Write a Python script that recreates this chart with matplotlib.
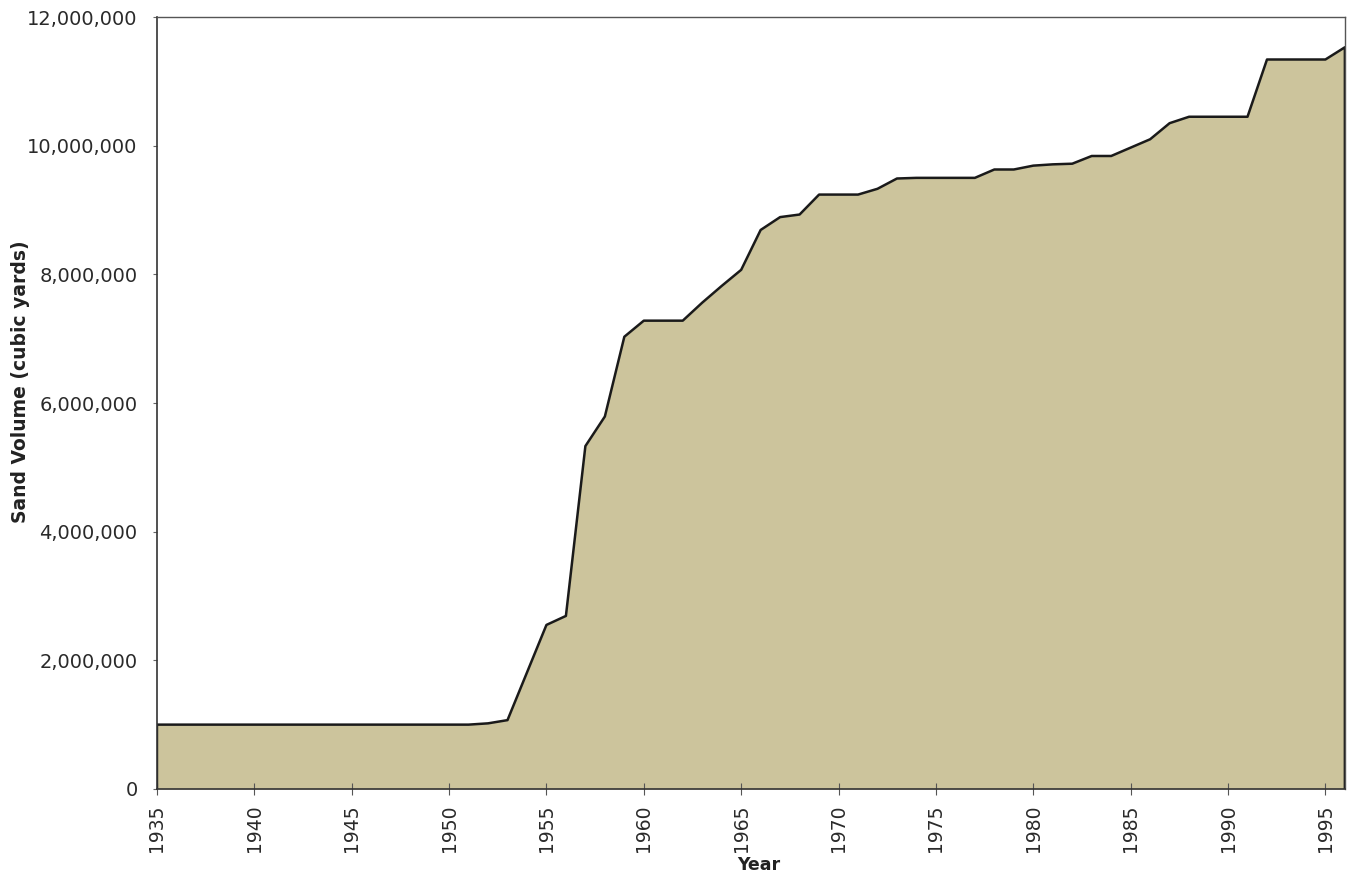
import matplotlib
matplotlib.use("Agg")
import matplotlib.pyplot as plt
from matplotlib.ticker import FuncFormatter

# cumulative sand volume placed on the beach (cubic yards)
years = list(range(1935, 1997))
volume = [
    1000000, 1000000, 1000000, 1000000, 1000000,   # 1935-1939
    1000000, 1000000, 1000000, 1000000, 1000000,   # 1940-1944
    1000000, 1000000, 1000000, 1000000, 1000000,   # 1945-1949
    1000000, 1000000, 1020000, 1070000, 1810000,   # 1950-1954
    2550000, 2690000, 5330000, 5790000, 7030000,   # 1955-1959
    7280000, 7280000, 7280000, 7560000, 7820000,   # 1960-1964
    8070000, 8690000, 8890000, 8930000, 9240000,   # 1965-1969
    9240000, 9240000, 9330000, 9490000, 9500000,   # 1970-1974
    9500000, 9500000, 9500000, 9630000, 9630000,   # 1975-1979
    9690000, 9710000, 9720000, 9840000, 9840000,   # 1980-1984
    9970000, 10100000, 10350000, 10450000, 10450000,  # 1985-1989
    10450000, 10450000, 11340000, 11340000, 11340000,  # 1990-1994
    11340000, 11530000,                            # 1995-1996
]
tick_years = list(range(1935, 1996, 5))
y_ticks = [0, 2000000, 4000000, 6000000, 8000000, 10000000, 12000000]

plt.rcParams['font.family'] = ['DejaVu Sans']
fig = plt.figure(figsize=(13.53, 8.74), dpi=100)
ax = fig.add_axes([0.116, 0.0973, 0.878, 0.8832])

fill_color = '#ccc49c'
ax.fill_between(years, 0, volume, color=fill_color, linewidth=0)
# outline of the area, including the closing edges at both ends
ax.plot([years[0]] + years + [years[-1]], [0] + volume + [0], color='#1a1a1a', linewidth=1.8)

ax.set_xlim(1935, 1996)
ax.set_ylim(0, 12000000)
ax.set_xticks(tick_years)
ax.set_xticklabels([str(y) for y in tick_years], rotation=90, fontsize=13.5, color='#2a2a2a')
ax.set_yticks(y_ticks)
ax.yaxis.set_major_formatter(FuncFormatter(lambda v, p: f"{int(v):,}"))
ax.tick_params(axis='y', labelsize=14, labelcolor='#2a2a2a', length=3, color='#666666', pad=11)
ax.tick_params(axis='x', length=8, color='#555555', direction='inout', pad=7)

for side in ['top', 'right']:
    ax.spines[side].set_color('#555555')
    ax.spines[side].set_linewidth(1.0)
for side in ['left', 'bottom']:
    ax.spines[side].set_color('#333333')
    ax.spines[side].set_linewidth(1.2)

ax.set_ylabel('Sand Volume (cubic yards)', fontsize=13.5, fontweight='bold', color='#222222')
ax.yaxis.set_label_coords(-0.107, 0.527)
ax.set_xlabel('Year', fontsize=12.5, fontweight='bold', color='#222222')
ax.xaxis.set_label_coords(0.507, -0.087)

fig.savefig('out.png', dpi=100)
